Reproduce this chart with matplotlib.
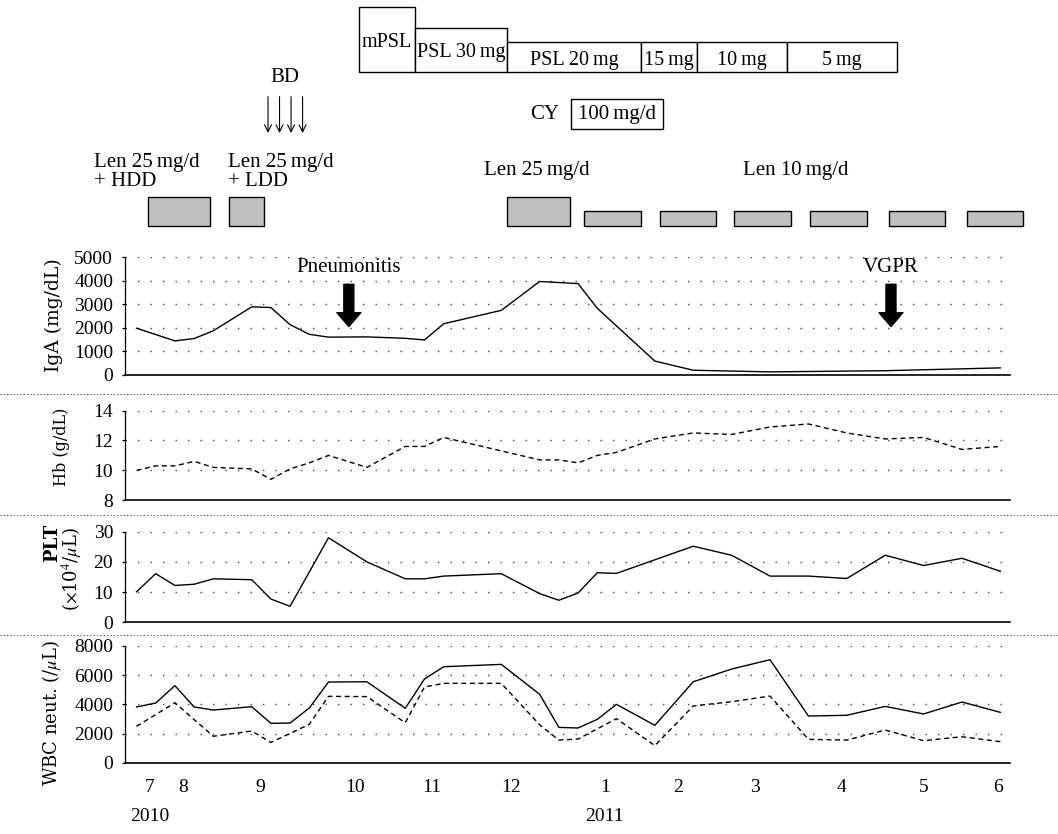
import matplotlib
matplotlib.use('agg')
import matplotlib.pyplot as plt
from matplotlib.lines import Line2D
from matplotlib.patches import Rectangle

plt.rcParams['font.family'] = ['Liberation Serif', 'DejaVu Serif']
plt.rcParams['mathtext.fontset'] = 'stix'

# x = visit index (about one per week, July 2010 -> June 2011)
iga_x = [0, 2, 3, 4, 6, 7, 8, 9, 10, 12, 14, 15, 16, 19, 21, 23, 24, 27, 29, 33, 39, 45]
iga_y = [1980, 1440, 1540, 1870, 2890, 2860, 2130, 1720, 1600, 1610, 1550, 1480, 2170,
         2740, 3970, 3880, 2830, 580, 190, 120, 170, 290]

hb_x = [0, 1, 2, 3, 4, 6, 7, 8, 9, 10, 12, 14, 15, 16, 21, 22, 23, 24, 25, 27, 29, 31,
        33, 35, 37, 39, 41, 43, 45]
hb_y = [10.0, 10.3, 10.3, 10.6, 10.2, 10.1, 9.4, 10.1, 10.5, 11.0, 10.2, 11.6, 11.6, 12.2,
        10.7, 10.7, 10.5, 11.0, 11.2, 12.1, 12.5, 12.4, 12.9, 13.1, 12.5, 12.1, 12.2, 11.4, 11.6]

plt_x = [0, 1, 2, 3, 4, 6, 7, 8, 10, 12, 14, 15, 16, 19, 21, 22, 23, 24, 25, 29, 31, 33,
         35, 37, 39, 41, 43, 45]
plt_y = [10.1, 16.1, 12.2, 12.6, 14.4, 14.1, 7.7, 5.3, 28.0, 20.0, 14.4, 14.4, 15.3, 16.1,
         9.5, 7.3, 9.7, 16.4, 16.2, 25.2, 22.2, 15.3, 15.3, 14.5, 22.2, 18.8, 21.2, 16.9]

wbc_x = [0, 1, 2, 3, 4, 6, 7, 8, 9, 10, 12, 14, 15, 16, 19, 21, 22, 23, 24, 25, 27, 29,
         31, 33, 35, 37, 39, 41, 43, 45]
wbc_y = [3820, 4090, 5280, 3820, 3610, 3840, 2700, 2720, 3750, 5530, 5550, 3730, 5740, 6580,
         6740, 4690, 2420, 2380, 2970, 4000, 2560, 5550, 6420, 7060, 3200, 3250, 3860, 3340,
         4160, 3450]
neut_x = [0, 2, 4, 6, 7, 9, 10, 12, 14, 15, 16, 19, 21, 22, 23, 25, 27, 29, 31, 33, 35, 37,
          39, 41, 43, 45]
neut_y = [2490, 4110, 1810, 2170, 1390, 2630, 4550, 4530, 2740, 5190, 5440, 5440, 2600, 1550,
          1620, 3020, 1170, 3890, 4180, 4570, 1600, 1550, 2240, 1510, 1780, 1440]

month_pos = [0.7, 2.45, 6.47, 11.4, 15.4, 19.5, 24.4, 28.2, 32.2, 36.7, 41.0, 44.9]
month_lab = ['7', '8', '9', '10', '11', '12', '1', '2', '3', '4', '5', '6']
year_pos = [0.7, 24.4]
year_lab = ['2010', '2011']

# treatments (start / end in visit index)
ster_start = [11.6, 14.5, 19.3, 26.3, 29.2, 33.9]
ster_end = [14.5, 19.3, 26.3, 29.2, 33.9, 39.6]
ster_lab = ['mPSL', 'PSL 30\u2009mg', 'PSL 20\u2009mg', '15\u2009mg', '10\u2009mg', '5\u2009mg']
cy_start, cy_end = 22.65, 27.4
bd_days = [6.85, 7.45, 8.05, 8.65]
len_start = [0.61, 4.83, 19.3, 23.3, 27.25, 31.1, 35.07, 39.2, 43.25]
len_end = [3.84, 6.66, 22.6, 26.3, 30.2, 34.1, 38.03, 42.1, 46.2]
len_dose = [25, 25, 25, 10, 10, 10, 10, 10, 10]
events = ['Pneumonitis', 'VGPR']
event_x = [11.06, 39.3]

W, H = 1058, 834
XLIM = (-0.6, 45.5)
L, R = 125, 1010

fig = plt.figure(figsize=(W / 100, H / 100), dpi=100)


def panel(top, bottom):
    return fig.add_axes([L / W, 1 - bottom / H, (R - L) / W, (bottom - top) / H])


def style(ax, ticks):
    ax.set_xlim(*XLIM)
    ax.set_ylim(ticks[0], ticks[-1])
    ax.set_yticks(ticks)
    for t in ticks[1:]:
        ax.axhline(t, color='#444444', lw=1.0, ls=(0, (1, 8)), zorder=0)
    for s in ['top', 'right']:
        ax.spines[s].set_visible(False)
    ax.spines['bottom'].set_linewidth(1.2)
    ax.spines['left'].set_linewidth(0.9)
    ax.tick_params(axis='y', length=2.5, width=0.9, pad=6, labelsize=14)
    ax.tick_params(axis='x', length=0, labelbottom=False)


ax1 = panel(257.3, 374.7)
ax1.plot(iga_x, iga_y, color='black', lw=1.0)
style(ax1, [0, 1000, 2000, 3000, 4000, 5000])
for name, x in zip(events, event_x):
    ax1.text(x, 4550, name, ha='center', va='center', fontsize=15)
    ax1.annotate('', xy=(x, 2050), xytext=(x, 3850),
                 arrowprops=dict(arrowstyle='simple,head_length=0.5,head_width=0.86,tail_width=0.36',
                                 fc='black', ec='black', mutation_scale=20, shrinkA=0, shrinkB=0))

ax2 = panel(410.5, 500.3)
ax2.plot(hb_x, hb_y, color='black', lw=1.0, dashes=(3.6, 2.6))
style(ax2, [8, 10, 12, 14])

ax3 = panel(531.7, 622.3)
ax3.plot(plt_x, plt_y, color='black', lw=1.0)
style(ax3, [0, 10, 20, 30])

ax4 = panel(646, 762.7)
ax4.plot(wbc_x, wbc_y, color='black', lw=1.0)
ax4.plot(neut_x, neut_y, color='black', lw=1.0, dashes=(3.6, 2.6))
style(ax4, [0, 2000, 4000, 6000, 8000])
ax4.set_xticks(month_pos)
ax4.set_xticklabels(month_lab)
ax4.tick_params(axis='x', labelbottom=True, labelsize=14, pad=12)
for p, lab in zip(year_pos, year_lab):
    ax4.annotate(lab, xy=(p, 0), xycoords=('data', 'axes fraction'), xytext=(0, -39),
                 textcoords='offset points', ha='center', va='center', fontsize=14)

# y labels
lab_font = dict(rotation=90, ha='center', va='center', family=['DejaVu Serif'])
fig.text(54 / W, 1 - 315 / H, 'IgA (mg/dL)', fontsize=13.5, **lab_font)
fig.text(61 / W, 1 - 447 / H, 'Hb (g/dL)', fontsize=11.5, **lab_font)
fig.text(52 / W, 1 - 543 / H, 'PLT', fontsize=13, weight='bold', **lab_font)
fig.text(72 / W, 1 - 569 / H, r'($\times$10$^4$/$\mu$L)', fontsize=13, **lab_font)
fig.text(52 / W, 1 - 713 / H, 'WBC neut. (/$\\mu$L)', fontsize=13, **lab_font)

# dotted separators between panels
for y in [394, 515, 635]:
    fig.add_artist(Line2D([0, 1], [1 - y / H, 1 - y / H], transform=fig.transFigure,
                          color='#444444', lw=0.8, ls=(0, (1, 2))))

# treatment schedule
top = fig.add_axes([0, 1 - 240 / H, 1, 240 / H])
span = (XLIM[1] - XLIM[0]) / ((R - L) / W)
x0 = XLIM[0] - (L / W) * span
top.set_xlim(x0, x0 + span)
top.set_ylim(240, 0)
top.set_axis_off()

ster_top = [7.3, 27.7, 42, 42, 42, 42]
for s, e, t, lab in zip(ster_start, ster_end, ster_top, ster_lab):
    top.add_patch(Rectangle((s, t), e - s, 72.3 - t, fc='white', ec='black', lw=1.0))
    top.text((s + e) / 2, (t + 72.3) / 2 + 3, lab, ha='center', va='center', fontsize=14.5)

top.text(cy_start - 1.4, 114.3, 'CY', ha='center', va='center', fontsize=15)
top.add_patch(Rectangle((cy_start, 99.3), cy_end - cy_start, 30, fc='white', ec='black', lw=1.0))
top.text((cy_start + cy_end) / 2, 114.3, '100\u2009mg/d', ha='center', va='center', fontsize=15)

top.text(sum(bd_days) / len(bd_days), 78, 'BD', ha='center', va='center', fontsize=15)
for d in bd_days:
    top.annotate('', xy=(d, 133), xytext=(d, 96.7),
                 arrowprops=dict(arrowstyle='->,head_length=0.5,head_width=0.25', lw=0.8,
                                 color='black', shrinkA=0, shrinkB=0))

for s, e, dose in zip(len_start, len_end, len_dose):
    t = 196.7 if dose == 25 else 210.7
    top.add_patch(Rectangle((s, t), e - s, 226 - t, fc='#c0c0c0', ec='black', lw=1.0))

top.text(-2.2, 172, 'Len 25\u2009mg/d\n+ HDD', ha='left', va='center', fontsize=15, linespacing=0.95)
top.text(4.76, 172, 'Len 25\u2009mg/d\n+ LDD', ha='left', va='center', fontsize=15, linespacing=0.95)
top.text(18.1, 170, 'Len 25\u2009mg/d', ha='left', va='center', fontsize=15)
top.text(31.6, 170, 'Len 10\u2009mg/d', ha='left', va='center', fontsize=15)

fig.savefig('out.png', dpi=100)
